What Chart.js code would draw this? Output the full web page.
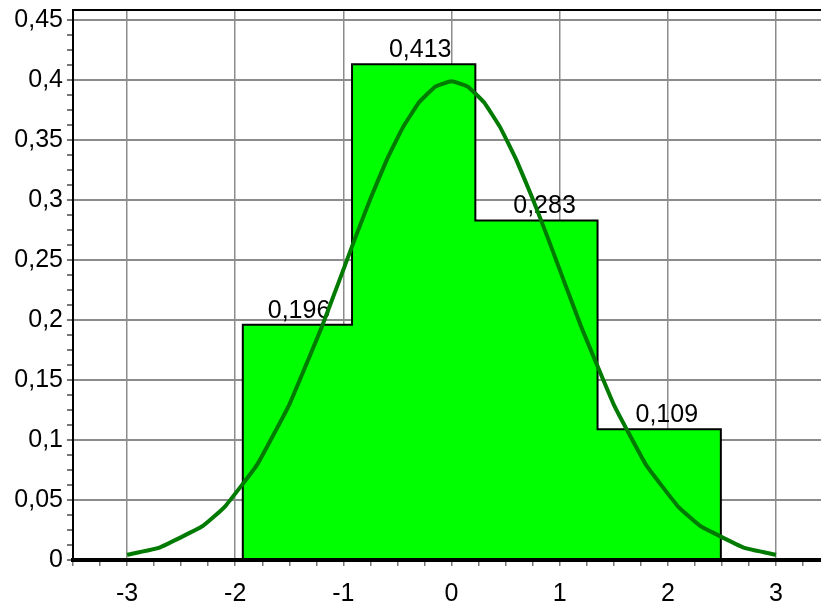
<!DOCTYPE html>
<html>
<head>
<meta charset="utf-8">
<script src="https://cdn.jsdelivr.net/npm/chart.js@4/dist/chart.umd.min.js"></script>
<style>
  html, body { margin: 0; padding: 0; background: #fff; }
  #wrap { width: 821px; height: 610px; }
</style>
</head>
<body>
<div id="wrap"><canvas id="my-chart"></canvas></div>
<script>
// histogram bins (edges) and relative frequencies
const binEdges = [-1.93, -0.92, 0.22, 1.35, 2.49];
const binHeights = [0.196, 0.413, 0.283, 0.109];
const labelX = [-1.41, -0.29, 0.86, 1.99];
const labelText = ['0,196', '0,413', '0,283', '0,109'];

// density curve (denser near the top)
const curveX = [-3, -2.7, -2.3, -2.1, -1.8, -1.5, -1.2, -1.05, -0.9, -0.75, -0.6, -0.45, -0.3, -0.15, 0,
                0.15, 0.3, 0.45, 0.6, 0.75, 0.9, 1.05, 1.2, 1.5, 1.8, 2.1, 2.3, 2.7, 3];
const curveY = [0.0044, 0.0104, 0.0283, 0.044, 0.079, 0.1295, 0.1942, 0.2299, 0.2661, 0.3011, 0.3332, 0.3605, 0.3814, 0.3945, 0.3989,
                0.3945, 0.3814, 0.3605, 0.3332, 0.3011, 0.2661, 0.2299, 0.1942, 0.1295, 0.079, 0.044, 0.0283, 0.0104, 0.0044];

const FONT = '"Liberation Sans", Arial, sans-serif';
const GRID = '#8c8c8c';

const isMult = (v, step) => Math.abs(v / step - Math.round(v / step)) < 1e-6;

// outline of the bars as one stepped line
const barPoints = [{ x: binEdges[0], y: 0 }];
binHeights.forEach((h, i) => barPoints.push({ x: binEdges[i], y: h }));
barPoints.push({ x: binEdges[binEdges.length - 1], y: 0 });

const curvePoints = curveX.map((x, i) => ({ x: x, y: curveY[i] }));

const overlay = {
  id: 'overlay',
  afterDatasetDraw(chart, args) {
    if (args.index !== 0) return;
    const { ctx, chartArea: a, scales } = chart;
    ctx.save();
    ctx.font = '25px ' + FONT;
    ctx.fillStyle = '#000';
    ctx.textAlign = 'center';
    ctx.textBaseline = 'alphabetic';
    labelX.forEach((x, i) => {
      ctx.fillText(labelText[i], scales.x.getPixelForValue(x), scales.y.getPixelForValue(binHeights[i]) - 7);
    });
    // thick x axis line and top frame
    ctx.strokeStyle = '#000';
    ctx.lineWidth = 4;
    ctx.beginPath();
    ctx.moveTo(a.left, a.bottom);
    ctx.lineTo(a.right, a.bottom);
    ctx.stroke();
    ctx.lineWidth = 2;
    ctx.beginPath();
    ctx.moveTo(a.left, a.top);
    ctx.lineTo(a.right, a.top);
    ctx.stroke();
    ctx.restore();
  }
};

const noPad = s => { s.paddingLeft = 0; s.paddingRight = 0; s.paddingTop = 0; s.paddingBottom = 0; };

const ctx = document.getElementById('my-chart').getContext('2d');
const chart = new Chart(ctx, {
  type: 'line',
  data: {
    datasets: [
      {
        data: barPoints,
        stepped: 'before',
        fill: 'origin',
        backgroundColor: '#00ff00',
        borderColor: '#000',
        borderWidth: 2,
        pointRadius: 0,
        order: 1
      },
      {
        data: curvePoints,
        borderColor: '#007a00',
        borderWidth: 4,
        pointRadius: 0,
        fill: false,
        tension: 0.1,
        order: 0
      }
    ]
  },
  options: {
    responsive: true,
    maintainAspectRatio: false,
    animation: false,
    events: [],
    layout: { padding: { top: 10, right: 0, left: 0, bottom: 0 } },
    plugins: { legend: { display: false }, tooltip: { enabled: false } },
    scales: {
      x: {
        type: 'linear',
        min: -3.5,
        max: 3.416,
        afterFit: s => { s.height = 50; noPad(s); },
        border: { color: '#000', width: 4 },
        grid: {
          color: c => (c.tick && isMult(c.tick.value, 1)) ? GRID : 'transparent',
          lineWidth: 1.5,
          tickColor: '#777',
          tickLength: 6
        },
        ticks: {
          stepSize: 0.25,
          includeBounds: false,
          autoSkip: false,
          maxRotation: 0,
          maxTicksLimit: 1000,
          padding: 13,
          color: '#000',
          font: { size: 25, family: FONT },
          callback: v => isMult(v, 1) ? String(Math.round(v)) : ''
        }
      },
      y: {
        type: 'linear',
        min: 0,
        max: 0.4583,
        afterFit: s => { s.width = 73; noPad(s); },
        border: { color: '#000', width: 2 },
        grid: {
          color: c => (c.tick && isMult(c.tick.value, 0.05)) ? GRID : 'transparent',
          lineWidth: 2,
          tickColor: '#777',
          tickLength: 6
        },
        ticks: {
          stepSize: 0.0125,
          includeBounds: false,
          autoSkip: false,
          maxTicksLimit: 1000,
          padding: 4,
          color: '#000',
          font: { size: 25, family: FONT },
          callback: v => isMult(v, 0.05) ? String(Math.round(v * 100) / 100).replace('.', ',') : ''
        }
      }
    }
  },
  plugins: [overlay]
});
</script>
</body>
</html>
